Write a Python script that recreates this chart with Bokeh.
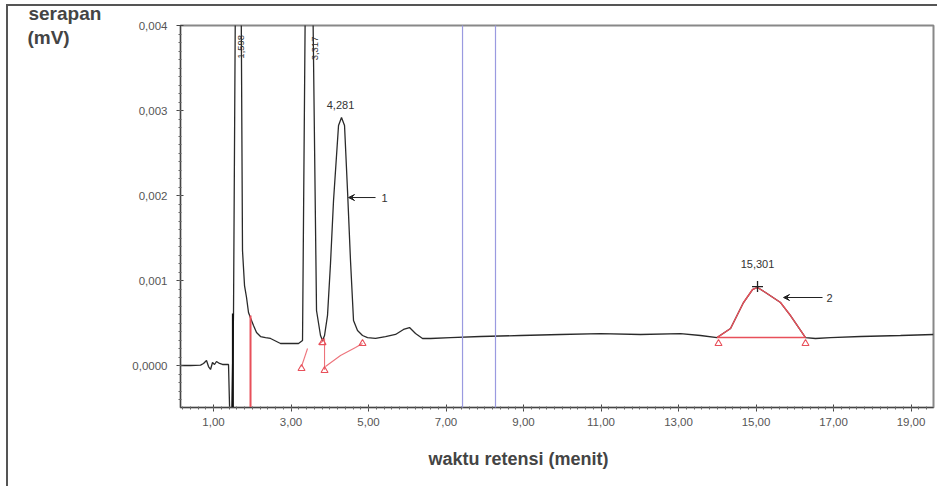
from bokeh.plotting import figure
from bokeh.models import FixedTicker, Label, Arrow, VeeHead, Title
from bokeh.embed import file_html
from bokeh.resources import INLINE
import numpy as np

# ---------------- data (retention time in minutes, signal in mV) ----------------
trace_t = [0.148, 0.406, 0.665, 0.742, 0.819, 0.871, 0.923, 0.974, 1.026, 1.077, 1.155, 1.232, 1.387,
           1.426, 1.465, 1.516, 1.568, 1.619, 1.671, 1.710, 1.748, 1.800, 1.852, 1.903, 1.955, 2.032,
           2.110, 2.213, 2.342, 2.471, 2.729, 2.987, 3.194, 3.297, 3.374, 3.452, 3.555, 3.658, 3.761,
           3.813, 3.865, 3.942, 4.019, 4.097, 4.226, 4.303, 4.381, 4.458, 4.535, 4.613, 4.716, 4.845,
           4.974, 5.181, 5.439, 5.697, 5.903, 6.058, 6.213, 6.394, 6.600, 7.116, 7.890, 8.923, 9.955,
           10.987, 12.019, 13.052, 13.568, 13.994, 14.342, 14.677, 14.910, 15.039, 15.245, 15.632,
           15.890, 16.277, 16.535, 16.923, 17.697, 18.729, 19.581]
trace_v = [0.0, 0.0, 0.000005, 0.000024, 0.000059, -0.000012, -0.000047, 0.000035, 0.000012, 0.000047,
           0.000024, 0.000012, 0.000012, -0.0007, -0.0007, 0.000612, 0.0046, 0.0048, 0.0046, 0.0046,
           0.001353, 0.000941, 0.0008, 0.000624, 0.00056, 0.000471, 0.000388, 0.000341, 0.000329,
           0.000318, 0.000259, 0.000259, 0.000259, 0.000294, 0.0046, 0.0048, 0.0046, 0.000647,
           0.000353, 0.000294, 0.000353, 0.00059, 0.0012, 0.001941, 0.002824, 0.002918, 0.002824,
           0.002059, 0.001235, 0.000529, 0.000412, 0.000353, 0.000329, 0.000318, 0.000341, 0.000365,
           0.000424, 0.000447, 0.000376, 0.000318, 0.000318, 0.000329, 0.000341, 0.000353, 0.000365,
           0.000376, 0.000365, 0.000376, 0.000353, 0.000329, 0.000435, 0.000741, 0.000894, 0.000918,
           0.000859, 0.000741, 0.000588, 0.000329, 0.000318, 0.000329, 0.000341, 0.000353, 0.000365]

# integrated peak 2 (red outline)
peak2_t = [13.994, 14.342, 14.677, 14.910, 15.039, 15.245, 15.632, 15.890, 16.277]
peak2_v = [0.000329, 0.000435, 0.000741, 0.000894, 0.000918, 0.000859, 0.000741, 0.000588, 0.000329]
peak2_base_t = [13.994, 16.277]
peak2_base_v = [0.000329, 0.000329]

# red integration marks near the first peaks
red_drop_t = [1.955, 1.955]
red_drop_v = [0.000588, -0.0007]
red_a_t = [3.271, 3.426]
red_a_v = [-0.000012, 0.0002]
red_b_t = [3.710, 3.839]
red_b_v = [0.000247, 0.000294]
red_c_t = [3.865, 3.865]
red_c_v = [0.00032, -0.00005]
red_d_t = [3.890, 4.277, 4.665, 4.845]
red_d_v = [-0.000012, 0.000118, 0.000212, 0.000259]
tri_t = [3.271, 3.813, 3.865, 4.845, 14.032, 16.277]
tri_v = [-0.000035, 0.00027, -0.000059, 0.000259, 0.000259, 0.000259]

# peak labels
peak_rt = [1.70, 3.61]
peak_rt_text = ["1,598", "3,317"]
peak_rt_v = [0.00375, 0.00373]
apex_t = [4.277, 15.039]
apex_v = [0.00307, 0.0012]
apex_text = ["4,281", "15,301"]

x_ticks = [1, 3, 5, 7, 9, 11, 13, 15, 17, 19]
x_tick_labels = ["1,00", "3,00", "5,00", "7,00", "9,00", "11,00", "13,00", "15,00", "17,00", "19,00"]
y_ticks = [0.0, 0.001, 0.002, 0.003, 0.004]
y_tick_labels = ["0,0000", "0,001", "0,002", "0,003", "0,004"]

blue_t = [7.426, 8.277]

# ---------------- figure ----------------
p = figure(width=931, height=482, x_range=(0.148, 19.58), y_range=(-0.000494, 0.004),
           output_backend="svg", toolbar_location=None,
           min_border_left=172, min_border_right=6, min_border_top=19, min_border_bottom=81)
p.styles = {"margin-left": "6px", "margin-top": "4px",
            "border-left": "2px solid #555", "border-top": "2px solid #555"}
p.xgrid.visible = False
p.ygrid.visible = False
p.outline_line_color = "#888"
p.outline_line_width = 2
p.background_fill_color = "white"

FONT = "Liberation Sans"

p.xaxis.ticker = FixedTicker(ticks=x_ticks, minor_ticks=list(np.round(np.arange(0.2, 19.6, 0.2), 2)))
p.xaxis.major_label_overrides = {float(t): s for t, s in zip(x_ticks, x_tick_labels)}
p.yaxis.ticker = FixedTicker(ticks=y_ticks, minor_ticks=list(np.round(np.arange(-0.0004, 0.004, 0.0001), 5)))
p.yaxis.major_label_overrides = {t: s for t, s in zip(y_ticks, y_tick_labels)}
for ax in (p.xaxis[0], p.yaxis[0]):
    ax.axis_line_color = "#444"
    ax.major_tick_line_color = "#444"
    ax.minor_tick_line_color = "#666"
    ax.major_tick_out = 4
    ax.major_tick_in = 3
    ax.minor_tick_out = 2
    ax.minor_tick_in = 1
    ax.major_label_text_font = FONT
    ax.major_label_text_font_size = "11.5px"
    ax.major_label_text_color = "#555"
p.xaxis.major_label_standoff = 6
p.yaxis.major_label_standoff = 9

# y-axis title: horizontal, at the top end of the axis
yax = p.yaxis[0]
yax.axis_label = "serapan\n(mV)\u00a0\u00a0\u00a0\u00a0\u00a0\u00a0"
yax.axis_label_orientation = "horizontal"
yax.axis_label_standoff = 28
yax.axis_label_text_font = FONT
yax.axis_label_text_font_size = "19px"
yax.axis_label_text_font_style = "bold"
yax.axis_label_text_color = "#444"
yax.axis_label_text_line_height = 1.15
yax.axis_label_text_baseline = "bottom"
if "axis_label_align" in yax.properties():
    yax.axis_label_align = "end"

# x-axis title as a title below the axis
p.add_layout(Title(text="waktu retensi (menit)", align="left", offset=248, standoff=37,
                   text_font=FONT, text_font_size="18px", text_font_style="bold",
                   text_color="#444"), "below")

# blue vertical lines
for bt in blue_t:
    p.add_layout(Arrow(x_start=bt, x_end=bt, y_start=-0.0015, y_end=0.0042, start=None, end=None,
                       line_color="#9a9ae0", line_width=1.2))

# chromatogram trace
p.line(trace_t, trace_v, line_color="#2a2a2a", line_width=1.3)
p.line([1.50, 1.50], [-0.0007, 0.000612], line_color="#111", line_width=2)

# red integration
RED = "#e8505a"
p.line(red_drop_t, red_drop_v, line_color=RED, line_width=2)
for tt, vv in ((red_a_t, red_a_v), (red_b_t, red_b_v), (red_c_t, red_c_v), (red_d_t, red_d_v)):
    p.line(tt, vv, line_color=RED, line_width=1.1, alpha=0.8)
p.line(peak2_t, peak2_v, line_color=RED, line_width=1.4)
p.line(peak2_base_t, peak2_base_v, line_color=RED, line_width=1.4)
p.scatter(tri_t, tri_v, marker="triangle", size=7, fill_color=None, line_color=RED, line_width=1.1)
p.scatter([15.039], [0.000929], marker="cross", size=11, line_color="#222", line_width=1.3)

# peak labels
for t, v, s in zip(peak_rt, peak_rt_v, peak_rt_text):
    p.add_layout(Label(x=t, y=v, text=s, angle=np.pi / 2, text_align="center", text_baseline="middle",
                       text_font=FONT, text_font_size="9.5px", text_color="#333"))
for t, v, s in zip(apex_t, apex_v, apex_text):
    p.add_layout(Label(x=t, y=v, text=s, text_align="center", text_baseline="middle",
                       text_font=FONT, text_font_size="11px", text_color="#333"))

# arrows "1" and "2"
p.add_layout(Arrow(x_start=5.181, y_start=0.001976, x_end=4.484, y_end=0.001976,
                   end=VeeHead(size=6, line_color="#222", fill_color="#222"),
                   line_color="#222", line_width=1))
p.add_layout(Label(x=5.335, y=0.001976, text="1", text_baseline="middle",
                   text_font=FONT, text_font_size="11px", text_color="#333"))
p.add_layout(Arrow(x_start=16.716, y_start=0.0008, x_end=15.710, y_end=0.0008,
                   end=VeeHead(size=6, line_color="#222", fill_color="#222"),
                   line_color="#222", line_width=1))
p.add_layout(Label(x=16.819, y=0.0008, text="2", text_baseline="middle",
                   text_font=FONT, text_font_size="11px", text_color="#333"))

open("out.html", "w").write(file_html(p, INLINE))
